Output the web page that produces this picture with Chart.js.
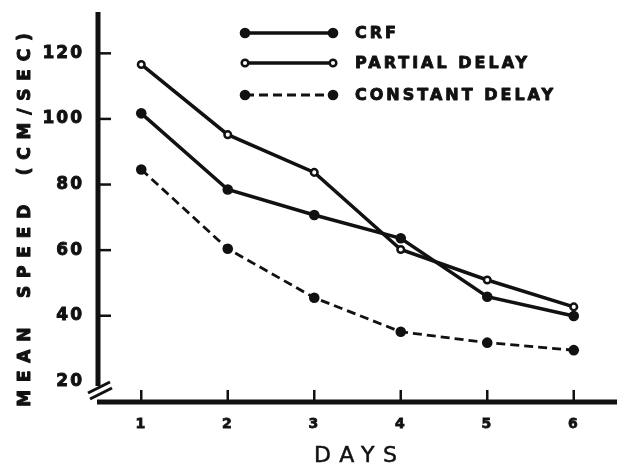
<!DOCTYPE html>
<html><head><meta charset="utf-8">
<script src="https://cdn.jsdelivr.net/npm/chart.js@4.4.1/dist/chart.umd.min.js"></script>
<style>html,body{margin:0;padding:0;background:#fff}#wrap{width:625px;height:469px;position:relative}</style>
</head><body><div id="wrap"><canvas id="c"></canvas></div>
<script>
// ---- data ----
const days = [1, 2, 3, 4, 5, 6];
const yTicks = [20, 40, 60, 80, 100, 120];
const crf = [101.7, 78.5, 70.7, 63.6, 45.8, 39.9];
const partialDelay = [116.6, 95.2, 83.7, 60.2, 50.9, 42.7];
const constantDelay = [84.6, 60.4, 45.5, 35.1, 31.8, 29.5];
const seriesNames = ['CRF', 'PARTIAL DELAY', 'CONSTANT DELAY'];
const xTitle = 'DAYS';
const yTitle = 'MEAN SPEED (CM/SEC)';

const ink = '#111';
const toPts = arr => days.map((d, i) => ({ x: d, y: arr[i] }));

function heavyText(ctx, txt, x, y, sw) {
  ctx.lineWidth = sw; ctx.strokeStyle = ink; ctx.lineJoin = 'round';
  ctx.strokeText(txt, x, y);
  ctx.fillText(txt, x, y);
}

const decor = {
  id: 'decor',
  beforeDraw(chart) { chart.ctx.letterSpacing = '2px'; },
  afterDraw(chart) {
    const { ctx, chartArea: a, scales: { x, y } } = chart;
    ctx.save();
    ctx.strokeStyle = ink; ctx.fillStyle = ink; ctx.lineCap = 'butt';
    // axes
    ctx.lineWidth = 5;
    ctx.beginPath(); ctx.moveTo(a.left, a.top); ctx.lineTo(a.left, a.bottom - 16); ctx.stroke();
    ctx.beginPath(); ctx.moveTo(a.left - 1, a.bottom); ctx.lineTo(a.right, a.bottom); ctx.stroke();
    // axis break
    ctx.lineWidth = 3;
    ctx.beginPath(); ctx.moveTo(a.left - 10, a.bottom - 9); ctx.lineTo(a.left + 12, a.bottom - 20); ctx.stroke();
    ctx.beginPath(); ctx.moveTo(a.left - 8, a.bottom - 3); ctx.lineTo(a.left + 14, a.bottom - 14); ctx.stroke();
    // inward ticks
    ctx.lineWidth = 2.5;
    yTicks.slice(1).forEach(v => {
      const py = y.getPixelForValue(v);
      ctx.beginPath(); ctx.moveTo(a.left, py); ctx.lineTo(a.left + 13, py); ctx.stroke();
    });
    days.forEach(d => {
      const px = x.getPixelForValue(d);
      ctx.beginPath(); ctx.moveTo(px, a.bottom); ctx.lineTo(px, a.bottom - 12); ctx.stroke();
    });
    // legend
    const rows = [33, 63, 95];
    chart.data.datasets.forEach((ds, i) => {
      const ly = rows[i], x0 = 245, x1 = 333;
      ctx.save();
      ctx.lineWidth = ds.borderWidth;
      ctx.setLineDash(ds.borderDash || []);
      ctx.beginPath(); ctx.moveTo(x0, ly); ctx.lineTo(x1, ly); ctx.stroke();
      ctx.setLineDash([]);
      [x0, x1].forEach(px => {
        ctx.beginPath(); ctx.arc(px, ly, ds.pointRadius, 0, Math.PI * 2);
        ctx.fillStyle = ds.pointBackgroundColor; ctx.fill();
        if (ds.pointBorderWidth) { ctx.lineWidth = ds.pointBorderWidth; ctx.strokeStyle = ds.pointBorderColor; ctx.stroke(); }
      });
      ctx.restore();
      ctx.save();
      ctx.font = 'bold 16px "DejaVu Sans"';
      ctx.letterSpacing = '3px';
      ctx.textAlign = 'left'; ctx.textBaseline = 'middle'; ctx.fillStyle = ink;
      heavyText(ctx, ds.label, 355, ly + 1, 0.9);
      ctx.restore();
    });
    // y title
    ctx.save();
    ctx.translate(26, 220); ctx.rotate(-Math.PI / 2);
    ctx.font = 'bold 17px "DejaVu Sans"';
    ctx.letterSpacing = '7.8px'; ctx.wordSpacing = '8px';
    ctx.textAlign = 'left'; ctx.textBaseline = 'middle'; ctx.fillStyle = ink;
    let w = ctx.measureText(yTitle).width;
    heavyText(ctx, yTitle, -(w - 7.8) / 2, 0, 1);
    ctx.restore();
    // x title
    ctx.save();
    ctx.font = '22px "DejaVu Sans"';
    ctx.letterSpacing = '8.5px';
    ctx.textAlign = 'left'; ctx.textBaseline = 'middle'; ctx.fillStyle = ink;
    w = ctx.measureText(xTitle).width;
    heavyText(ctx, xTitle, 355.5 - (w - 8.5) / 2, 456, 0.5);
    ctx.restore();
    ctx.restore();
  }
};

new Chart(document.getElementById('c'), {
  type: 'line',
  data: {
    datasets: [
      { label: seriesNames[0], data: toPts(crf), borderColor: ink, borderWidth: 3.5,
        pointRadius: 5.3, pointBackgroundColor: ink, pointBorderColor: ink, pointBorderWidth: 0 },
      { label: seriesNames[1], data: toPts(partialDelay), borderColor: ink, borderWidth: 3.5,
        pointRadius: 3.3, pointBackgroundColor: '#fff', pointBorderColor: ink, pointBorderWidth: 2.5 },
      { label: seriesNames[2], data: toPts(constantDelay), borderColor: ink, borderWidth: 2.8, borderDash: [9, 5],
        pointRadius: 5.3, pointBackgroundColor: ink, pointBorderColor: ink, pointBorderWidth: 0 }
    ]
  },
  options: {
    responsive: true, maintainAspectRatio: false, animation: false, devicePixelRatio: 1, events: [],
    layout: { padding: { top: 12, right: 8, left: 0, bottom: 0 } },
    plugins: { legend: { display: false }, tooltip: { enabled: false } },
    elements: { line: { tension: 0 } },
    scales: {
      x: {
        type: 'linear', min: 0.5, max: 6.5,
        afterBuildTicks: s => { s.ticks = days.map(v => ({ value: v })); },
        afterFit: s => { s.height = 67; s.paddingLeft = 0; s.paddingRight = 0; },
        grid: { display: false, drawTicks: false }, border: { display: false },
        ticks: { color: ink, font: { family: 'DejaVu Sans', size: 14, weight: 'bold' }, padding: 14, maxRotation: 0,
                 textStrokeColor: ink, textStrokeWidth: 0.8 }
      },
      y: {
        type: 'linear', min: 13.7, max: 132.6,
        afterBuildTicks: s => { s.ticks = yTicks.map(v => ({ value: v })); },
        afterFit: s => { s.width = 98; s.paddingTop = 0; s.paddingBottom = 0; },
        grid: { display: false, drawTicks: false }, border: { display: false },
        ticks: { color: ink, font: { family: 'DejaVu Sans', size: 17, weight: 'bold' }, padding: 14,
                 textStrokeColor: ink, textStrokeWidth: 0.9 }
      }
    }
  },
  plugins: [decor]
});
</script>
</body></html>
